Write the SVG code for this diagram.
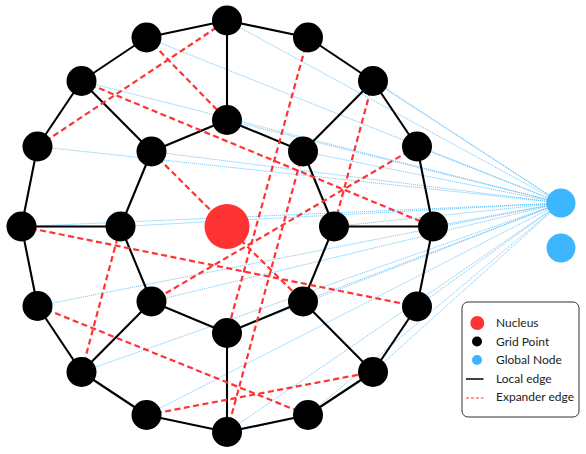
<svg xmlns="http://www.w3.org/2000/svg" width="586" height="454" viewBox="0 0 586 454">
<style>
.bg{fill:#ffffff}
.glob line{stroke:#45b5f7;stroke-width:0.8;stroke-dasharray:1.2 0.8;opacity:0.85}
.local line{stroke:#000;stroke-width:2.1}
.exp line{stroke:#ff3333;stroke-width:2.2;stroke-dasharray:6 3.5}
.grid{fill:#000}
.nuc{fill:#ff3333}
.gn{fill:#3db5ff}
.leg text{font-family:Lato,"Liberation Sans",sans-serif;font-size:12px;fill:#222}
</style>
<rect class="bg" x="0" y="0" width="586" height="454"/>
<g id="connectors">
<g class="glob">
<line x1="561" y1="203" x2="227" y2="20.5"/>
<line x1="561" y1="203" x2="146.5" y2="37.5"/>
<line x1="561" y1="203" x2="81.5" y2="81"/>
<line x1="561" y1="203" x2="37.5" y2="146.5"/>
<line x1="561" y1="203" x2="21.5" y2="226.5"/>
<line x1="561" y1="203" x2="37.5" y2="306"/>
<line x1="561" y1="203" x2="81.5" y2="372"/>
<line x1="561" y1="203" x2="146.5" y2="415"/>
<line x1="561" y1="203" x2="227" y2="432"/>
<line x1="561" y1="203" x2="308" y2="415"/>
<line x1="561" y1="203" x2="373" y2="372"/>
<line x1="561" y1="203" x2="417" y2="306.5"/>
<line x1="561" y1="203" x2="433" y2="226.5"/>
<line x1="561" y1="203" x2="417" y2="146.5"/>
<line x1="561" y1="203" x2="373" y2="81"/>
<line x1="561" y1="203" x2="308" y2="37.5"/>
<line x1="561" y1="203" x2="227" y2="120"/>
<line x1="561" y1="203" x2="151.5" y2="151.5"/>
<line x1="561" y1="203" x2="120.5" y2="226.5"/>
<line x1="561" y1="203" x2="151.5" y2="301.5"/>
<line x1="561" y1="203" x2="227" y2="333"/>
<line x1="561" y1="203" x2="303" y2="301.5"/>
<line x1="561" y1="203" x2="334" y2="226.5"/>
<line x1="561" y1="203" x2="303" y2="151.5"/>
</g>
<g class="local">
<line x1="227" y1="20.5" x2="146.5" y2="37.5"/>
<line x1="146.5" y1="37.5" x2="81.5" y2="81"/>
<line x1="81.5" y1="81" x2="37.5" y2="146.5"/>
<line x1="37.5" y1="146.5" x2="21.5" y2="226.5"/>
<line x1="21.5" y1="226.5" x2="37.5" y2="306"/>
<line x1="37.5" y1="306" x2="81.5" y2="372"/>
<line x1="81.5" y1="372" x2="146.5" y2="415"/>
<line x1="146.5" y1="415" x2="227" y2="432"/>
<line x1="227" y1="432" x2="308" y2="415"/>
<line x1="308" y1="415" x2="373" y2="372"/>
<line x1="373" y1="372" x2="417" y2="306.5"/>
<line x1="417" y1="306.5" x2="433" y2="226.5"/>
<line x1="433" y1="226.5" x2="417" y2="146.5"/>
<line x1="417" y1="146.5" x2="373" y2="81"/>
<line x1="373" y1="81" x2="308" y2="37.5"/>
<line x1="308" y1="37.5" x2="227" y2="20.5"/>
<line x1="227" y1="120" x2="151.5" y2="151.5"/>
<line x1="151.5" y1="151.5" x2="120.5" y2="226.5"/>
<line x1="120.5" y1="226.5" x2="151.5" y2="301.5"/>
<line x1="151.5" y1="301.5" x2="227" y2="333"/>
<line x1="227" y1="333" x2="303" y2="301.5"/>
<line x1="303" y1="301.5" x2="334" y2="226.5"/>
<line x1="334" y1="226.5" x2="303" y2="151.5"/>
<line x1="303" y1="151.5" x2="227" y2="120"/>
<line x1="227" y1="20.5" x2="227" y2="120"/>
<line x1="81.5" y1="81" x2="151.5" y2="151.5"/>
<line x1="21.5" y1="226.5" x2="120.5" y2="226.5"/>
<line x1="81.5" y1="372" x2="151.5" y2="301.5"/>
<line x1="227" y1="432" x2="227" y2="333"/>
<line x1="373" y1="372" x2="303" y2="301.5"/>
<line x1="433" y1="226.5" x2="334" y2="226.5"/>
<line x1="373" y1="81" x2="303" y2="151.5"/>
</g>
<g class="exp">
<line x1="37.5" y1="146.5" x2="227" y2="20.5"/>
<line x1="146.5" y1="37.5" x2="227" y2="120"/>
<line x1="81.5" y1="81" x2="433" y2="226.5"/>
<line x1="151.5" y1="151.5" x2="227" y2="226.5"/>
<line x1="308" y1="37.5" x2="227" y2="333"/>
<line x1="373" y1="81" x2="334" y2="226.5"/>
<line x1="303" y1="151.5" x2="227" y2="432"/>
<line x1="417" y1="146.5" x2="151.5" y2="301.5"/>
<line x1="227" y1="226.5" x2="303" y2="301.5"/>
<line x1="21.5" y1="226.5" x2="417" y2="306.5"/>
<line x1="37.5" y1="306" x2="308" y2="415"/>
<line x1="81.5" y1="372" x2="120.5" y2="226.5"/>
<line x1="146.5" y1="415" x2="373" y2="372"/>
</g>
</g>
<g id="nucleus"><circle class="nuc" cx="227" cy="226.5" r="22.5"/></g>
<g id="o0"><circle class="grid" cx="227" cy="20.5" r="15"/></g>
<g id="o1"><circle class="grid" cx="146.5" cy="37.5" r="15"/></g>
<g id="o2"><circle class="grid" cx="81.5" cy="81" r="15"/></g>
<g id="o3"><circle class="grid" cx="37.5" cy="146.5" r="15"/></g>
<g id="o4"><circle class="grid" cx="21.5" cy="226.5" r="15"/></g>
<g id="o5"><circle class="grid" cx="37.5" cy="306" r="15"/></g>
<g id="o6"><circle class="grid" cx="81.5" cy="372" r="15"/></g>
<g id="o7"><circle class="grid" cx="146.5" cy="415" r="15"/></g>
<g id="o8"><circle class="grid" cx="227" cy="432" r="15"/></g>
<g id="o9"><circle class="grid" cx="308" cy="415" r="15"/></g>
<g id="o10"><circle class="grid" cx="373" cy="372" r="15"/></g>
<g id="o11"><circle class="grid" cx="417" cy="306.5" r="15"/></g>
<g id="o12"><circle class="grid" cx="433" cy="226.5" r="15"/></g>
<g id="o13"><circle class="grid" cx="417" cy="146.5" r="15"/></g>
<g id="o14"><circle class="grid" cx="373" cy="81" r="15"/></g>
<g id="o15"><circle class="grid" cx="308" cy="37.5" r="15"/></g>
<g id="i0"><circle class="grid" cx="227" cy="120" r="15"/></g>
<g id="i1"><circle class="grid" cx="151.5" cy="151.5" r="15"/></g>
<g id="i2"><circle class="grid" cx="120.5" cy="226.5" r="15"/></g>
<g id="i3"><circle class="grid" cx="151.5" cy="301.5" r="15"/></g>
<g id="i4"><circle class="grid" cx="227" cy="333" r="15"/></g>
<g id="i5"><circle class="grid" cx="303" cy="301.5" r="15"/></g>
<g id="i6"><circle class="grid" cx="334" cy="226.5" r="15"/></g>
<g id="i7"><circle class="grid" cx="303" cy="151.5" r="15"/></g>
<g id="global0"><circle class="gn" cx="561" cy="203" r="14.5"/></g>
<g id="global1"><circle class="gn" cx="561" cy="248" r="14.5"/></g>
<g id="legend" class="leg">
<rect x="462" y="302" width="117" height="115" rx="6" fill="#fff" stroke="#333" stroke-width="1"/>
<circle cx="477.3" cy="323" r="7" fill="#ff3333"/>
<circle cx="477" cy="341.5" r="5" fill="#000"/>
<circle cx="477" cy="360" r="5" fill="#3db5ff"/>
<line x1="466" y1="379" x2="483.5" y2="379" stroke="#000" stroke-width="1.5"/>
<line x1="466" y1="398" x2="483.5" y2="398" stroke="#ff3333" stroke-width="1.2" stroke-dasharray="3 2"/>
<text x="496" y="327">Nucleus</text>
<text x="496" y="345.5">Grid Point</text>
<text x="496" y="364">Global Node</text>
<text x="496" y="382.5">Local edge</text>
<text x="496" y="401">Expander edge</text>
</g>
</svg>
